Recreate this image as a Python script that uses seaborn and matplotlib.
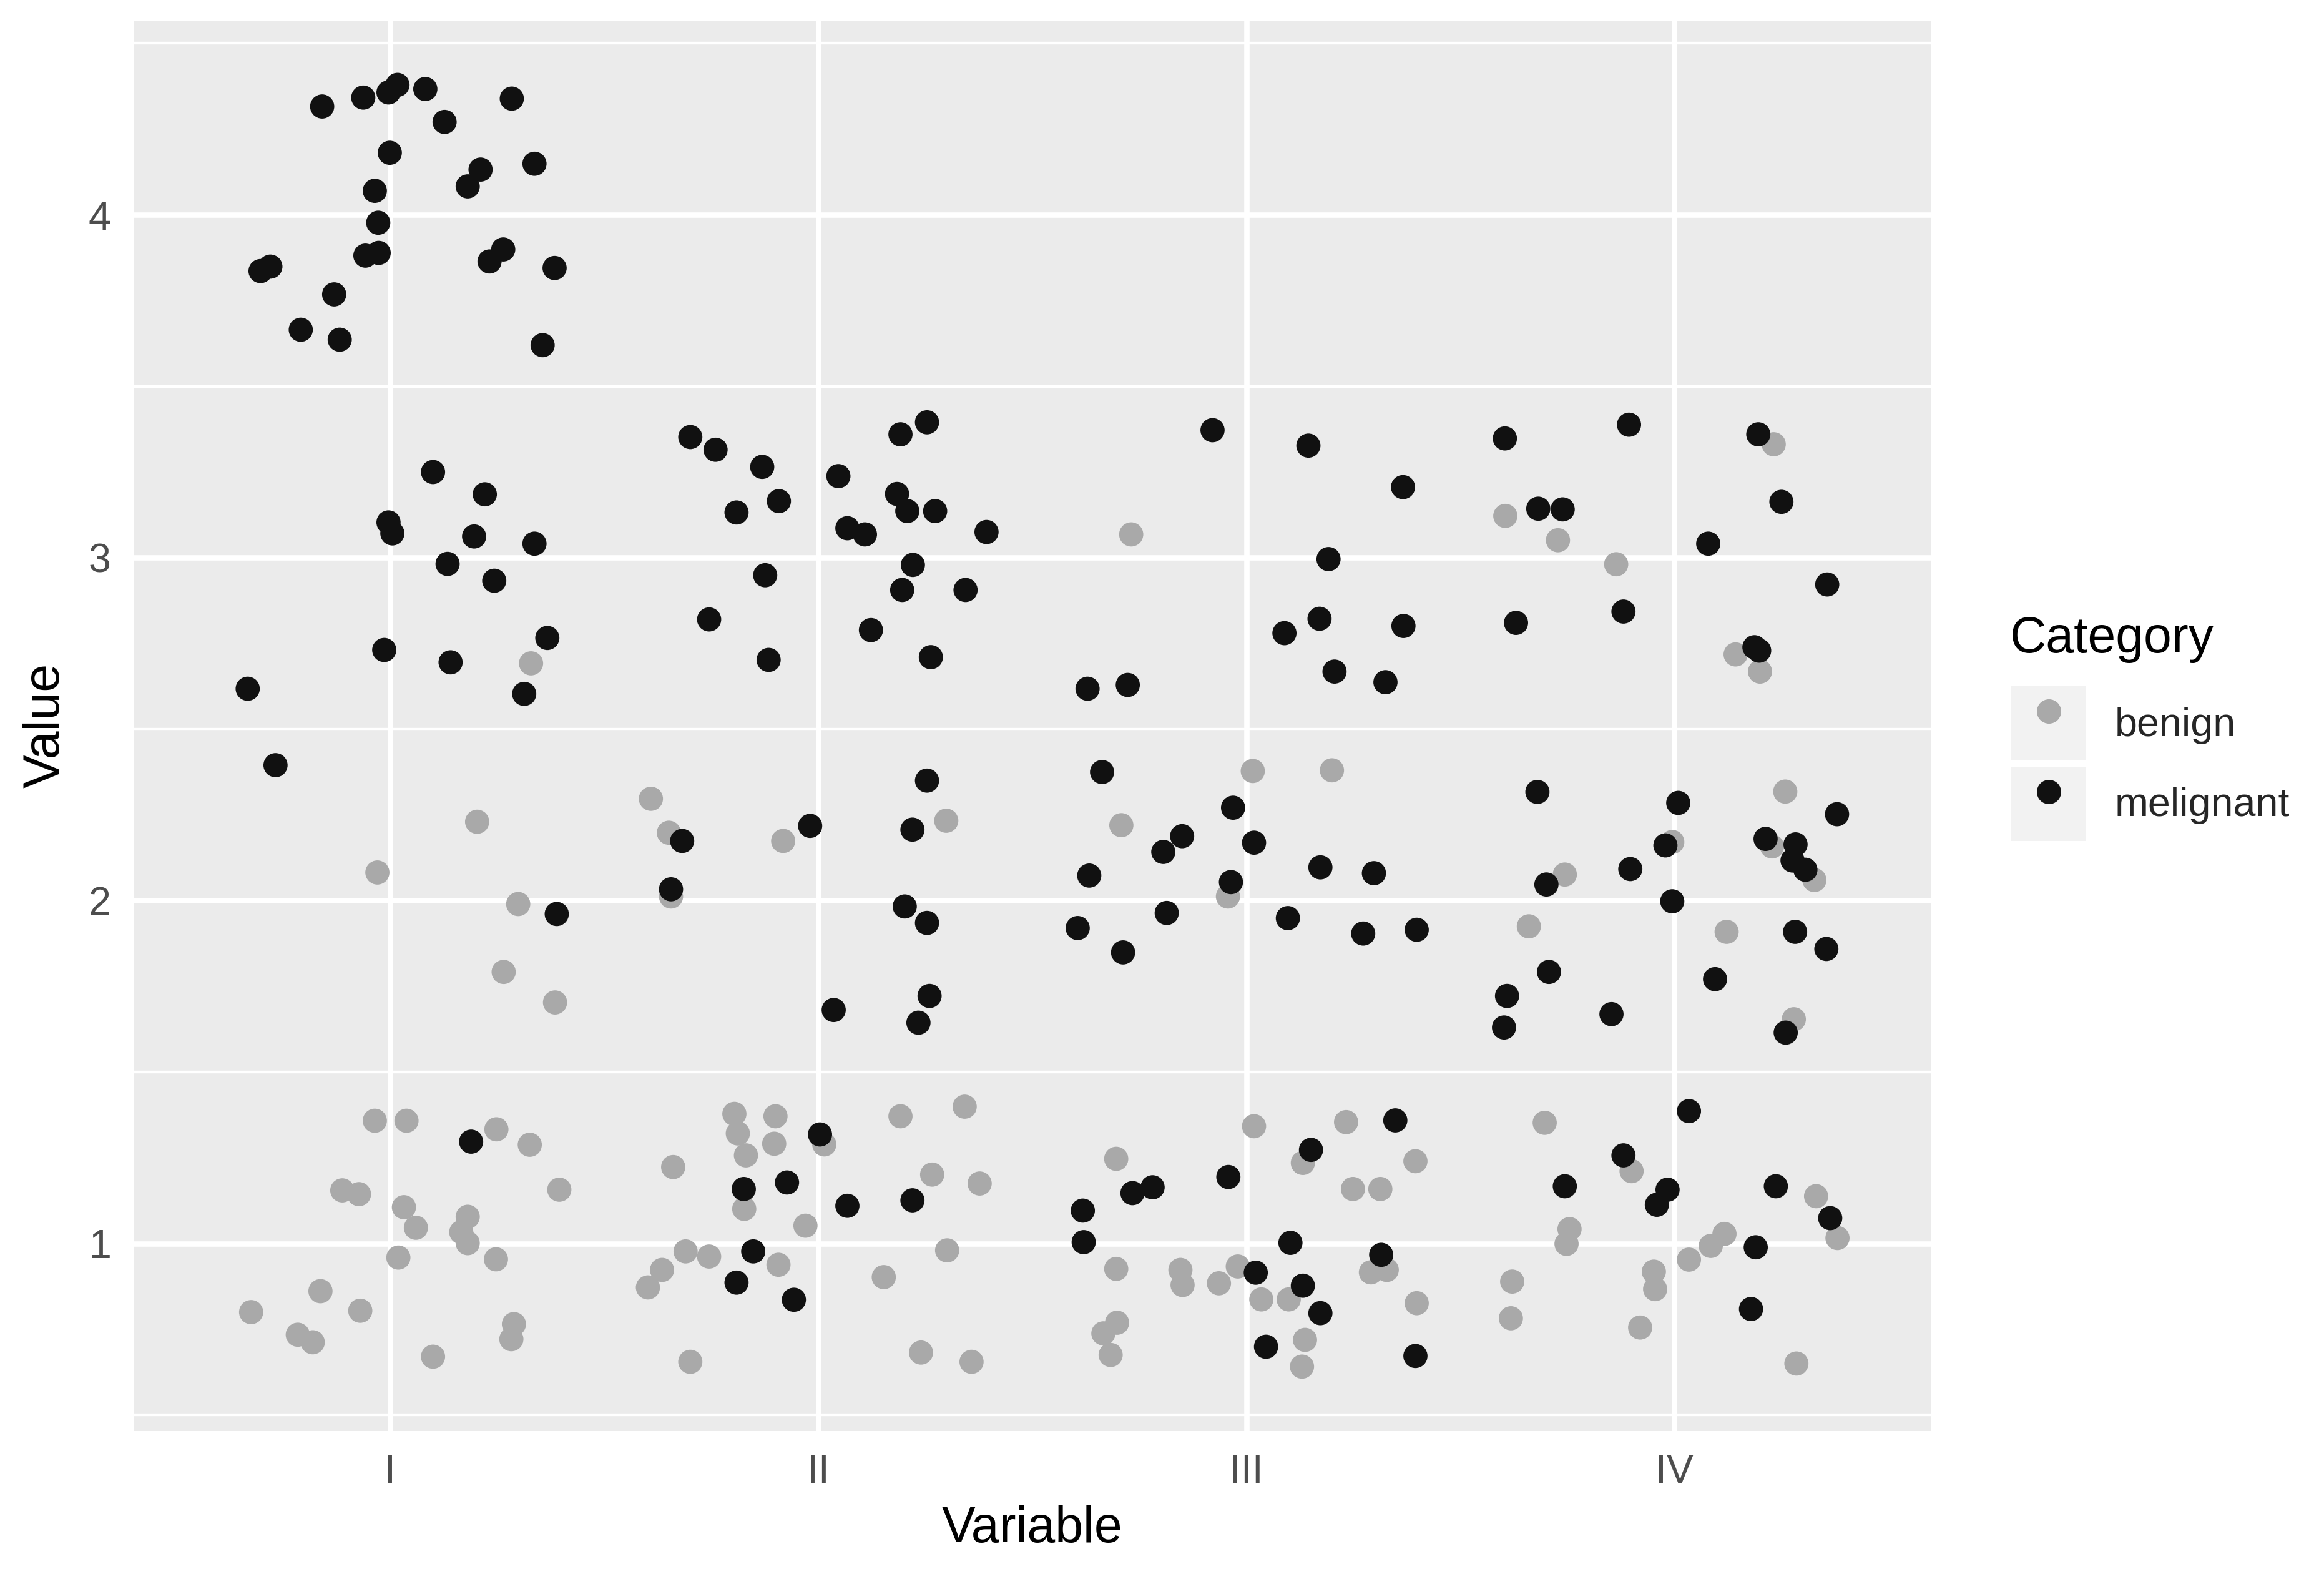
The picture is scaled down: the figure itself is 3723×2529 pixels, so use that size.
import numpy as np
import pandas as pd
import matplotlib
matplotlib.use("Agg")
import matplotlib.pyplot as plt
from matplotlib.patches import Rectangle
from matplotlib.lines import Line2D
import seaborn as sns

# ---------------- data ----------------
variables = ["I", "II", "III", "IV"]
categories = ["benign", "melignant"]
colors = {"benign": "#A9A9A9", "melignant": "#111111"}

# jittered horizontal position and value of every point, per variable / category
I_mel_x = [0.841, 0.937, 0.996, 1.017, 1.082, 1.284, 1.127, 0.999, 1.211, 1.181, 1.337, 0.964,
           0.972, 0.942, 0.973, 1.264, 1.232, 0.697, 0.720, 1.384, 0.869, 0.791, 0.882, 1.356,
           1.100, 1.221, 0.996, 1.005, 1.196, 1.337, 1.134, 1.243, 1.367, 0.986, 1.141, 1.313,
           0.667, 0.732, 1.389, 1.189]
I_mel_y = [4.316, 4.342, 4.357, 4.379, 4.367, 4.339, 4.271, 4.181, 4.132, 4.083, 4.149, 4.070,
           3.977, 3.881, 3.889, 3.899, 3.864, 3.836, 3.849, 3.845, 3.768, 3.665, 3.636, 3.620,
           3.250, 3.185, 3.103, 3.071, 3.062, 3.041, 2.982, 2.933, 2.766, 2.731, 2.695, 2.603,
           2.618, 2.395, 1.961, 1.297]
I_ben_x = [1.329, 1.203, 0.970, 1.299, 1.265, 1.385, 0.964, 1.038, 1.248, 1.326, 1.395, 0.888,
           0.927, 1.032, 1.060, 1.181, 1.166, 1.181, 1.019, 1.247, 0.837, 0.675, 0.930, 1.289,
           1.283, 0.784, 0.819, 1.100]
I_ben_y = [2.692, 2.230, 2.082, 1.990, 1.792, 1.703, 1.358, 1.358, 1.333, 1.288, 1.157, 1.155,
           1.144, 1.106, 1.046, 1.078, 1.033, 1.001, 0.959, 0.954, 0.861, 0.800, 0.804, 0.765,
           0.721, 0.734, 0.712, 0.670]

II_mel_x = [1.701, 1.760, 1.869, 1.908, 1.809, 2.047, 2.192, 2.254, 2.184, 2.208, 2.273, 2.068,
            2.109, 2.393, 2.221, 1.876, 2.196, 2.344, 1.745, 2.123, 1.884, 2.263, 2.254, 1.682,
            1.981, 2.220, 1.656, 2.202, 2.254, 2.036, 2.260, 2.234, 2.004, 1.826, 1.927, 2.068,
            2.220, 1.848, 1.809, 1.943]
II_mel_y = [3.352, 3.315, 3.265, 3.165, 3.132, 3.238, 3.360, 3.395, 3.186, 3.136, 3.136, 3.086,
            3.068, 3.075, 2.979, 2.949, 2.906, 2.906, 2.820, 2.789, 2.702, 2.710, 2.350, 2.174,
            2.218, 2.207, 2.033, 1.983, 1.935, 1.681, 1.722, 1.644, 1.318, 1.159, 1.178, 1.110,
            1.126, 0.977, 0.886, 0.836]
II_ben_x = [1.609, 1.651, 1.918, 2.299, 1.656, 1.804, 1.900, 1.812, 1.897, 1.831, 2.014, 2.192,
            2.342, 1.661, 1.827, 2.266, 2.377, 1.970, 1.690, 1.745, 1.635, 1.602, 1.907, 2.301,
            2.153, 1.701, 2.240, 2.358]
II_ben_y = [2.297, 2.198, 2.174, 2.233, 2.012, 1.378, 1.371, 1.321, 1.291, 1.257, 1.289, 1.371,
            1.399, 1.223, 1.101, 1.201, 1.175, 1.052, 0.977, 0.962, 0.923, 0.872, 0.938, 0.980,
            0.902, 0.655, 0.682, 0.655]

III_mel_x = [2.921, 3.145, 3.366, 3.192, 3.171, 3.089, 3.367, 3.206, 3.325, 2.629, 2.723, 2.663,
             2.969, 2.850, 2.806, 3.018, 2.633, 3.173, 3.298, 2.964, 2.606, 2.712, 2.814, 3.097,
             3.273, 3.398, 3.348, 3.151, 2.734, 2.781, 2.958, 2.618, 2.620, 3.103, 3.315, 3.022,
             3.132, 3.173, 3.046, 3.395]
III_mel_y = [3.372, 3.327, 3.206, 2.996, 2.822, 2.780, 2.801, 2.668, 2.637, 2.618, 2.629, 2.375,
             2.271, 2.188, 2.142, 2.169, 2.073, 2.097, 2.080, 2.054, 1.920, 1.849, 1.964, 1.949,
             1.904, 1.915, 1.359, 1.273, 1.147, 1.164, 1.194, 1.096, 1.004, 1.002, 0.967, 0.915,
             0.877, 0.797, 0.699, 0.672]
III_ben_x = [2.731, 3.015, 3.200, 2.708, 2.957, 3.018, 3.233, 2.696, 3.132, 3.395, 3.249, 3.313,
             2.696, 2.846, 2.851, 2.980, 2.936, 3.291, 3.328, 3.035, 3.099, 3.398, 2.698, 2.666,
             2.683, 3.137, 3.130]
III_ben_y = [3.068, 2.378, 2.380, 2.220, 2.012, 1.342, 1.354, 1.247, 1.235, 1.240, 1.159, 1.159,
             0.926, 0.923, 0.879, 0.933, 0.884, 0.916, 0.923, 0.837, 0.837, 0.826, 0.769, 0.738,
             0.675, 0.719, 0.641]

IV_mel_x = [3.604, 3.894, 4.196, 4.250, 3.682, 3.739, 4.079, 4.357, 3.881, 3.630, 4.187, 4.198,
            3.680, 4.009, 4.380, 3.979, 4.213, 4.283, 4.276, 4.306, 3.701, 3.897, 3.995, 4.282,
            4.355, 3.707, 4.095, 3.609, 3.853, 3.602, 4.260, 4.034, 3.881, 3.744, 3.984, 3.959,
            4.237, 4.364, 4.190, 4.179]
IV_mel_y = [3.348, 3.388, 3.360, 3.163, 3.143, 3.141, 3.041, 2.922, 2.843, 2.810, 2.739, 2.729,
            2.317, 2.285, 2.252, 2.161, 2.180, 2.164, 2.117, 2.090, 2.047, 2.092, 1.998, 1.909,
            1.859, 1.792, 1.771, 1.722, 1.669, 1.630, 1.615, 1.386, 1.257, 1.167, 1.157, 1.113,
            1.167, 1.074, 0.989, 0.809]
IV_ben_x = [4.232, 3.605, 3.728, 3.864, 4.143, 4.200, 4.259, 3.995, 4.228, 4.327, 3.744, 3.660,
            4.122, 4.279, 3.697, 3.900, 4.331, 4.381, 3.755, 3.748, 4.117, 4.085, 4.034, 3.621,
            3.952, 3.955, 3.618, 3.920, 4.285]
IV_ben_y = [3.331, 3.122, 3.051, 2.981, 2.718, 2.668, 2.318, 2.171, 2.158, 2.060, 2.076, 1.925,
            1.909, 1.654, 1.352, 1.211, 1.138, 1.016, 1.042, 0.999, 1.028, 0.993, 0.953, 0.889,
            0.918, 0.867, 0.782, 0.755, 0.650]

series = [
    ("I", "benign", I_ben_x, I_ben_y), ("I", "melignant", I_mel_x, I_mel_y),
    ("II", "benign", II_ben_x, II_ben_y), ("II", "melignant", II_mel_x, II_mel_y),
    ("III", "benign", III_ben_x, III_ben_y), ("III", "melignant", III_mel_x, III_mel_y),
    ("IV", "benign", IV_ben_x, IV_ben_y), ("IV", "melignant", IV_mel_x, IV_mel_y),
]
rows = []
for var, cat, xs, ys in series:
    for xv, yv in zip(xs, ys):
        rows.append({"Variable": var, "Category": cat, "xpos": xv, "Value": yv})
df = pd.DataFrame(rows)

# ---------------- style (ggplot2 theme_grey look) ----------------
sns.set_theme(style="white")
plt.rcParams["font.family"] = ["Liberation Sans", "DejaVu Sans"]

W, H, DPI = 3723, 2529, 240
fig = plt.figure(figsize=(W / DPI, H / DPI), dpi=DPI)
fig.patch.set_facecolor("white")
ax = fig.add_axes([90 / 1568, 1 - 965 / 1065, (1303 - 90) / 1568, (965 - 14) / 1065])
ax.set_facecolor("#EBEBEB")

sns.scatterplot(data=df, x="xpos", y="Value", hue="Category", hue_order=categories,
                palette=colors, s=135, linewidth=0, legend=False, ax=ax, zorder=3)

ax.set_xlim(0.4, 4.6)
ax.set_ylim(0.454, 4.566)
ax.set_xticks(range(1, len(variables) + 1))
ax.set_xticklabels(variables)
ax.set_yticks([1, 2, 3, 4])
ax.set_yticks([0.5, 1.5, 2.5, 3.5, 4.5], minor=True)
ax.grid(which="major", color="white", linewidth=2.6, zorder=1)
ax.grid(which="minor", axis="y", color="white", linewidth=1.3, zorder=1)
ax.set_axisbelow(True)
for sp in ax.spines.values():
    sp.set_visible(False)
ax.tick_params(axis="both", which="major", length=6, width=2, color="#333333",
               labelsize=19.4, labelcolor="#4D4D4D", pad=4.8)
ax.tick_params(axis="both", which="minor", length=0)

ax.set_xlabel("Variable", fontsize=24.2, color="black", labelpad=7)
ax.set_ylabel("Value", fontsize=24.2, color="black", labelpad=9)

# ---------------- legend ----------------
fig.text(1356 / 1568, 1 - 440 / 1065, "Category", fontsize=24.2, color="black",
         ha="left", va="baseline")
handles = []
for cat in categories:
    box = Rectangle((0, 0), 1, 1, facecolor="#F2F2F2", edgecolor="none")
    dot = Line2D([], [], linestyle="", marker="o", markersize=11.7,
                 markerfacecolor=colors[cat], markeredgewidth=0)
    handles.append((box, dot))
leg = fig.legend(handles, categories, loc="upper left",
                 bbox_to_anchor=(1357 / 1568, 1 - 463 / 1065), frameon=False,
                 fontsize=19.4, handlelength=1.84, handleheight=2.45,
                 handletextpad=0.72, labelspacing=0.15, borderpad=0, borderaxespad=0)

fig.savefig("out.png", dpi=DPI, facecolor="white")
